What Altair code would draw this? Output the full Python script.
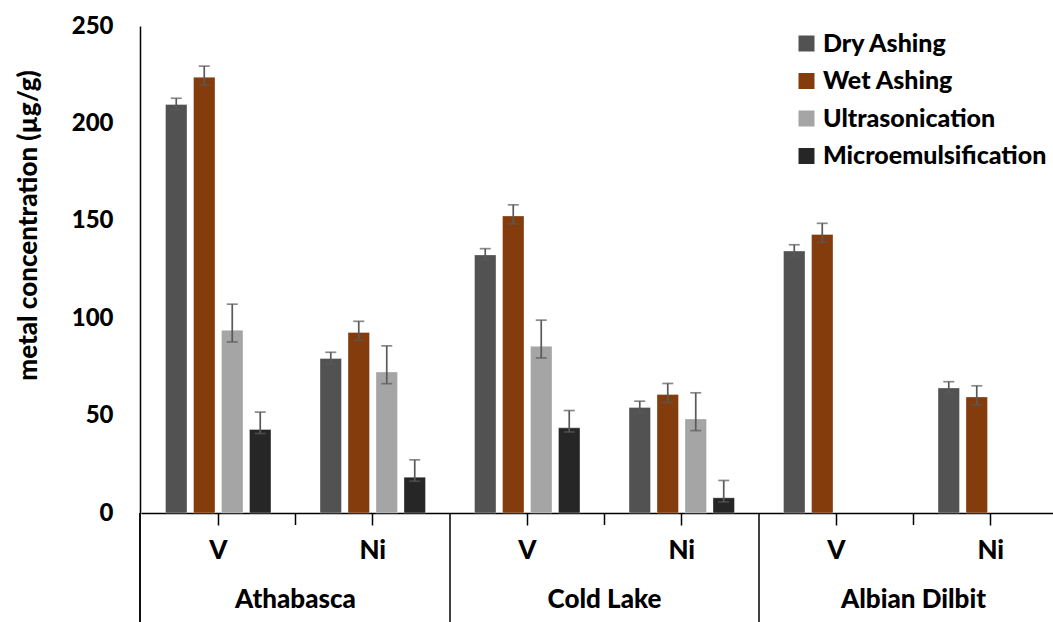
import altair as alt
import pandas as pd

# Crudes, metals and sample-preparation methods
regions = ["Athabasca", "Cold Lake", "Albian Dilbit"]
metals = ["V", "Ni"]
methods = ["Dry Ashing", "Wet Ashing", "Ultrasonication", "Microemulsification"]
colors = ["#525252", "#843C0C", "#A5A5A5", "#262626"]

# Concentrations (µg/g), ordered Athabasca V, Athabasca Ni, Cold Lake V, Cold Lake Ni, Albian V, Albian Ni
dry_ashing = [209.7, 79.3, 132.5, 54.2, 134.5, 64.2]
wet_ashing = [223.7, 92.7, 152.5, 60.8, 143.0, 59.6]
ultrasonication = [93.8, 72.4, 85.6, 48.3, None, None]
microemulsification = [42.9, 18.4, 43.7, 7.8, None, None]

# Error bar extents above / below each bar, per method
err_up = [3.2, 5.7, 13.4, 8.9]
err_down = [2.8, 4.1, 6.0, 2.1]

series = [dry_ashing, wet_ashing, ultrasonication, microemulsification]
keys = [f"{r} {m}" for r in regions for m in metals]

rows = []
for mi, (method, vals) in enumerate(zip(methods, series)):
    for k, v in zip(keys, vals):
        if v is None:
            continue
        rows.append({"key": k, "method": method, "value": v,
                     "lo": v - err_down[mi], "hi": v + err_up[mi]})
df = pd.DataFrame(rows)

labels_df = pd.DataFrame({"key": keys, "metal": [m for r in regions for m in metals]})
ni_df = pd.DataFrame({"key": [f"{r} Ni" for r in regions], "region": regions})
div_df = pd.DataFrame({"key": [f"{r} V" for r in regions[1:]]})

FONT = "Lato"
WEIGHT = 900
W, H = 913, 487

xscale = alt.Scale(domain=keys, range=[1, 928], paddingInner=0, paddingOuter=0)
offscale = alt.Scale(domain=methods, paddingInner=0.232, paddingOuter=0.876)
yscale = alt.Scale(domain=[0, 250], nice=False)

xaxis = alt.Axis(labels=False, title=None, ticks=True, tickSize=12, tickColor="black",
                 tickWidth=1.5, bandPosition=0.5, domainColor="black", domainWidth=1.5,
                 grid=False)
yaxis = alt.Axis(title="metal concentration (µg/g)", values=[0, 50, 100, 150, 200, 250],
                 ticks=False, grid=False, domainColor="black", domainWidth=1.5,
                 labelFont=FONT, labelFontSize=24, labelFontWeight=WEIGHT, labelColor="black",
                 labelPadding=27, titleFont=FONT, titleFontSize=26, titleFontWeight=WEIGHT,
                 titleColor="black", titleAngle=270, titleX=-112, titleY=199,
                 titleAlign="center", titleBaseline="middle")

X = alt.X("key:N", scale=xscale, axis=xaxis)
XO = alt.XOffset("method:N", scale=offscale)

bars = alt.Chart(df).mark_bar(stroke="white", strokeOpacity=0.35, strokeWidth=1).encode(
    x=X, xOffset=XO,
    y=alt.Y("value:Q", scale=yscale, axis=yaxis),
    color=alt.Color("method:N", scale=alt.Scale(domain=methods, range=colors),
                    legend=alt.Legend(title=None, orient="none", legendX=654, legendY=5,
                                      direction="vertical", symbolType="square",
                                      symbolSize=256, symbolStrokeWidth=0,
                                      labelFont=FONT, labelFontSize=25,
                                      labelFontWeight=WEIGHT, labelColor="black",
                                      labelLimit=0, labelOffset=4, rowPadding=11.5,
                                      padding=0)),
)

ERR = "#595959"
err_line = alt.Chart(df).mark_rule(color=ERR, strokeWidth=1.7).encode(
    x=X, xOffset=XO,
    y=alt.Y("lo:Q", scale=yscale, axis=yaxis), y2="hi:Q",
)
cap_hi = alt.Chart(df).mark_tick(color=ERR, size=11, thickness=1.7).encode(
    x=X, xOffset=XO, y=alt.Y("hi:Q", scale=yscale, axis=yaxis),
)
cap_lo = alt.Chart(df).mark_tick(color=ERR, size=11, thickness=1.7).encode(
    x=X, xOffset=XO, y=alt.Y("lo:Q", scale=yscale, axis=yaxis),
)

# Category axis: minor ticks between V and Ni, dividers between crudes
minor_ticks = alt.Chart(ni_df).mark_rule(color="black", strokeWidth=1.5).encode(
    x=alt.X("key:N", scale=xscale, bandPosition=0, axis=xaxis),
    y=alt.value(H), y2=alt.value(H + 12),
)
dividers = alt.Chart(div_df).mark_rule(color="black", strokeWidth=1.5).encode(
    x=alt.X("key:N", scale=xscale, bandPosition=0, axis=xaxis),
    y=alt.value(H), y2=alt.value(H + 109),
)
left_ext = alt.Chart(div_df).mark_rule(color="black", strokeWidth=1.5).encode(
    x=alt.value(0), y=alt.value(H), y2=alt.value(H + 109),
)
metal_text = alt.Chart(labels_df).mark_text(
    font=FONT, fontSize=26, fontWeight=WEIGHT, color="black", baseline="middle", align="center"
).encode(x=alt.X("key:N", scale=xscale, axis=xaxis), y=alt.value(H + 38), text="metal:N")
region_text = alt.Chart(ni_df).mark_text(
    font=FONT, fontSize=26, fontWeight=WEIGHT, color="black", baseline="middle", align="center"
).encode(x=alt.X("key:N", scale=xscale, bandPosition=0, axis=xaxis),
         y=alt.value(H + 87), text="region:N")

chart = alt.layer(
    bars, err_line, cap_hi, cap_lo, minor_ticks, dividers, left_ext, metal_text, region_text
).properties(
    width=W, height=H,
    autosize=alt.AutoSizeParams(type="none"),
    padding={"left": 140, "top": 26, "right": 0, "bottom": 109},
    background="white",
).configure_view(stroke=None)

chart.save("out.html", embed_options={"renderer": "svg", "actions": False})
